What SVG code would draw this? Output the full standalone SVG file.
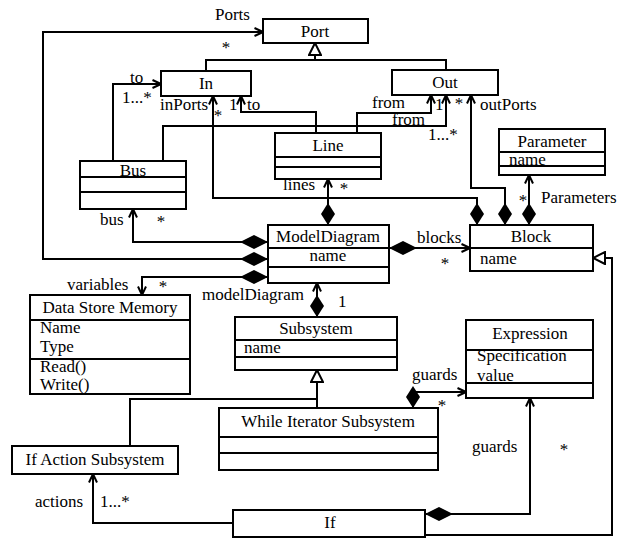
<svg xmlns="http://www.w3.org/2000/svg" width="629" height="538" viewBox="0 0 629 538">
<style>
.box{fill:#fff;stroke:#000;stroke-width:2}
.sep{stroke:#000;stroke-width:2}
text{font-family:"Liberation Serif","Times New Roman",serif;font-size:17px;fill:#000}
.c{text-anchor:middle}
.con{fill:none;stroke:#000;stroke-width:2}
</style>
<defs>
<marker id="open" viewBox="0 0 10 10" refX="9.5" refY="5" markerWidth="10" markerHeight="10" markerUnits="userSpaceOnUse" orient="auto"><path d="M1,1 L9.5,5 L1,9" fill="none" stroke="#000" stroke-width="2"/></marker>
<marker id="dia" viewBox="0 0 28 14" refX="0" refY="7" markerWidth="28" markerHeight="14" markerUnits="userSpaceOnUse" orient="auto"><path d="M0,7 L14,0 L28,7 L14,14 Z" fill="#000"/></marker>
<marker id="diaV" viewBox="0 0 22 14" refX="0" refY="7" markerWidth="22" markerHeight="14" markerUnits="userSpaceOnUse" orient="auto"><path d="M0,7 L11,0 L22,7 L11,14 Z" fill="#000"/></marker>
<marker id="tri" viewBox="0 0 14 14" refX="13" refY="7" markerWidth="14" markerHeight="14" markerUnits="userSpaceOnUse" orient="auto"><path d="M1,1 L13,7 L1,13 Z" fill="#fff" stroke="#000" stroke-width="2"/></marker>
</defs>

<g id="connectors">
<path class="con" d="M268,259 H43 V32 H263" marker-start="url(#dia)" marker-end="url(#open)"/>
<path class="con" d="M206,71 V60 H446 V70"/>
<path class="con" d="M315,60 V43" marker-end="url(#tri)"/>
<path class="con" d="M113,161 V84 H161" marker-end="url(#open)"/>
<path class="con" d="M477,225 V198 H213 V96" marker-start="url(#diaV)" marker-end="url(#open)"/>
<path class="con" d="M316,133 V112 H241 V96" marker-end="url(#open)"/>
<path class="con" d="M357,133 V113 H431 V95" marker-end="url(#open)"/>
<path class="con" d="M163,161 V126 H446 V95" marker-end="url(#open)"/>
<path class="con" d="M505,225 V188 H471 V95" marker-start="url(#diaV)" marker-end="url(#open)"/>
<path class="con" d="M529,225 V175" marker-start="url(#diaV)" marker-end="url(#open)"/>
<path class="con" d="M328,225 V179" marker-start="url(#diaV)" marker-end="url(#open)"/>
<path class="con" d="M268,242 H133 V209" marker-start="url(#dia)" marker-end="url(#open)"/>
<path class="con" d="M268,277 H142 V295" marker-start="url(#dia)" marker-end="url(#open)"/>
<path class="con" d="M389,248 H470" marker-start="url(#dia)" marker-end="url(#open)"/>
<path class="con" d="M317,317 V283" marker-start="url(#diaV)" marker-end="url(#open)"/>
<path class="con" d="M130,446 V399 H317"/>
<path class="con" d="M317,408 V370" marker-end="url(#tri)"/>
<path class="con" d="M413,408 V392 H466" marker-start="url(#diaV)" marker-end="url(#open)"/>
<path class="con" d="M425,514 H530 V398" marker-start="url(#dia)" marker-end="url(#open)"/>
<path class="con" d="M425,535 H612 V258 H593" marker-end="url(#tri)"/>
<path class="con" d="M233,523 H93 V474" marker-end="url(#open)"/>
<text x="215" y="20">Ports</text>
<text class="c" x="226" y="53">*</text>
<text x="130" y="83">to</text>
<text x="122" y="103">1...*</text>
<text x="160" y="110">inPorts</text>
<text class="c" x="218" y="121">*</text>
<text x="229" y="110">1</text>
<text x="247" y="110">to</text>
<text x="372" y="108">from</text>
<text x="435" y="110">1</text>
<text x="392" y="125">from</text>
<text x="428" y="140">1...*</text>
<text class="c" x="459" y="109">*</text>
<text x="480" y="110">outPorts</text>
<text class="c" x="523" y="206">*</text>
<text x="541" y="203">Parameters</text>
<text x="283" y="190">lines</text>
<text class="c" x="344" y="194">*</text>
<text x="100" y="225">bus</text>
<text class="c" x="161" y="227">*</text>
<text x="67" y="290">variables</text>
<text class="c" x="163" y="292">*</text>
<text x="417" y="243">blocks</text>
<text class="c" x="445" y="269">*</text>
<text x="202" y="300">modelDiagram</text>
<text x="338" y="307">1</text>
<text x="412" y="380">guards</text>
<text class="c" x="442" y="411">*</text>
<text x="472" y="452">guards</text>
<text class="c" x="564" y="455">*</text>
<text x="35" y="507">actions</text>
<text x="100" y="507">1...*</text>
</g>

<g id="Port"><rect class="box" x="263" y="19" width="105" height="24"/><text class="c" x="315" y="37">Port</text></g>
<g id="In"><rect class="box" x="161" y="71" width="90" height="25"/><text class="c" x="206" y="89">In</text></g>
<g id="Out"><rect class="box" x="392" y="70" width="106" height="25"/><text class="c" x="445" y="88">Out</text></g>
<g id="Bus"><rect class="box" x="80" y="161" width="106" height="48"/><line class="sep" x1="80" y1="177" x2="186" y2="177"/><line class="sep" x1="80" y1="192" x2="186" y2="192"/><text class="c" x="133" y="176">Bus</text></g>
<g id="Line"><rect class="box" x="275" y="133" width="106" height="46"/><line class="sep" x1="275" y1="157" x2="381" y2="157"/><line class="sep" x1="275" y1="167" x2="381" y2="167"/><text class="c" x="328" y="151">Line</text></g>
<g id="Parameter"><rect class="box" x="499" y="129" width="106" height="46"/><line class="sep" x1="499" y1="152" x2="605" y2="152"/><line class="sep" x1="499" y1="166" x2="605" y2="166"/><text class="c" x="552" y="147">Parameter</text><text x="509" y="165">name</text></g>
<g id="ModelDiagram"><rect class="box" x="268" y="225" width="121" height="58"/><line class="sep" x1="268" y1="248" x2="389" y2="248"/><line class="sep" x1="268" y1="267" x2="389" y2="267"/><text class="c" x="328" y="242">ModelDiagram</text><text class="c" x="328" y="261">name</text></g>
<g id="Block"><rect class="box" x="470" y="225" width="123" height="46"/><line class="sep" x1="470" y1="248" x2="593" y2="248"/><text class="c" x="531" y="242">Block</text><text x="480" y="264">name</text></g>
<g id="DataStoreMemory"><rect class="box" x="30" y="295" width="160" height="99"/><line class="sep" x1="30" y1="320" x2="190" y2="320"/><line class="sep" x1="30" y1="359" x2="190" y2="359"/><text class="c" x="110" y="313">Data Store Memory</text><text x="40" y="333">Name</text><text x="40" y="352">Type</text><text x="40" y="372">Read()</text><text x="40" y="390">Write()</text></g>
<g id="Subsystem"><rect class="box" x="235" y="317" width="162" height="53"/><line class="sep" x1="235" y1="340" x2="397" y2="340"/><line class="sep" x1="235" y1="357" x2="397" y2="357"/><text class="c" x="316" y="334">Subsystem</text><text x="244" y="353">name</text></g>
<g id="Expression"><rect class="box" x="466" y="320" width="127" height="78"/><line class="sep" x1="466" y1="350" x2="593" y2="350"/><line class="sep" x1="466" y1="383" x2="593" y2="383"/><text class="c" x="530" y="339">Expression</text><text x="477" y="361">Specification</text><text x="477" y="381">value</text></g>
<g id="WhileIteratorSubsystem"><rect class="box" x="219" y="408" width="219" height="62"/><line class="sep" x1="219" y1="437" x2="438" y2="437"/><line class="sep" x1="219" y1="453" x2="438" y2="453"/><text class="c" x="328" y="427">While Iterator Subsystem</text></g>
<g id="IfActionSubsystem"><rect class="box" x="12" y="446" width="166" height="28"/><text class="c" x="95" y="465">If Action Subsystem</text></g>
<g id="If"><rect class="box" x="233" y="510" width="192" height="27"/><text class="c" x="330" y="528">If</text></g>
</svg>
